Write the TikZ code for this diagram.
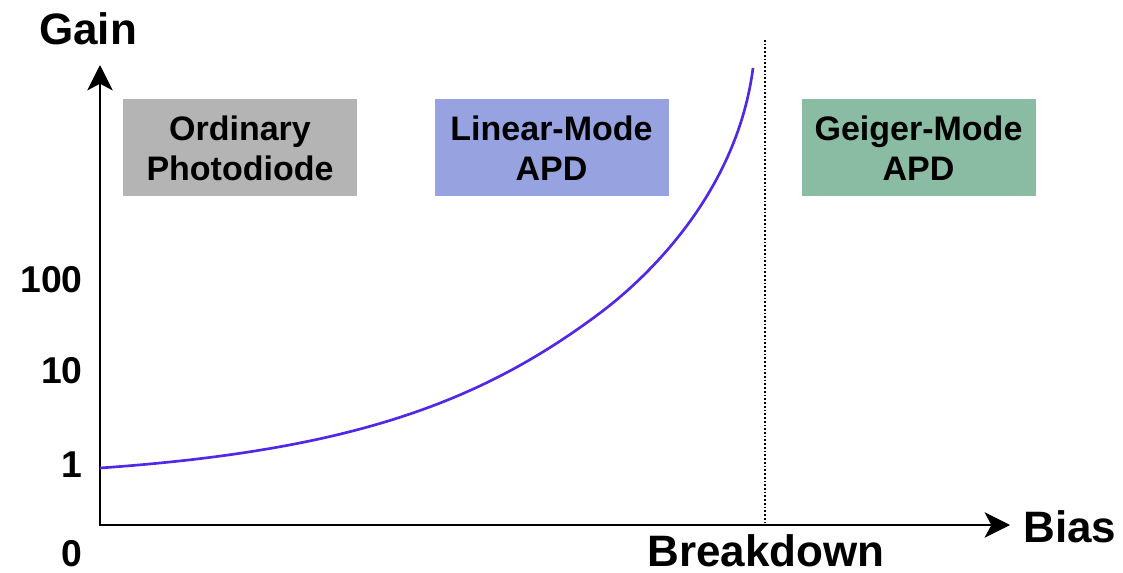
\documentclass[tikz,border=0pt]{standalone}
\usepackage{fontspec}
\setmainfont{Liberation Sans}
\usetikzlibrary{arrows.meta,positioning}
\definecolor{ordgray}{RGB}{180,180,180}
\definecolor{linblue}{RGB}{150,163,224}
\definecolor{geigreen}{RGB}{138,188,164}
\definecolor{gaincurve}{RGB}{80,40,230}
\tikzset{
    axis/.style={line width=2pt,{Stealth[length=19pt,width=19pt,inset=5pt]}-{Stealth[length=19pt,width=19pt,inset=5pt]}},
    axislabel/.style={font=\fontsize{33}{36}\selectfont\bfseries,inner sep=0pt},
    ticklabel/.style={font=\fontsize{28}{30}\selectfont\bfseries,inner sep=0pt,anchor=base east},
    regionbox/.style={minimum width=175.5pt,minimum height=72.75pt,align=center,inner sep=0pt,
        font=\fontsize{25.5}{30}\selectfont\bfseries}
}

\begin{document}
\begin{tikzpicture}[x=0.75pt,y=-0.75pt]
    \useasboundingbox (0,0) rectangle (1123,573);
    \coordinate (origin) at (100,525);
    \coordinate (ytop) at (100,65);
    \coordinate (xend) at (1010,525);
    \coordinate (bdtop) at (765,40);
    \coordinate (bdbot) at (765,525);
    \coordinate (gainstart) at (100,468);
    \coordinate (knee) at (600,313);
    \coordinate (gainend) at (753,68);
    \node[regionbox,fill=ordgray] (ordinary) at (240,148) {Ordinary\\Photodiode};
    \node[regionbox,fill=linblue] (linear) at (551.5,148) {Linear-Mode\\APD};
    \node[regionbox,fill=geigreen] (geiger) at (918.5,148) {Geiger-Mode\\APD};
    \draw[axis] (ytop) -- (origin) -- (xend);
    \draw[line width=1.3pt,dash pattern=on 1.3pt off 1.5pt] (bdtop) -- (bdbot);
    \draw[gaincurve,line width=2pt] (gainstart) .. controls (350,450.5) and (480,403) .. (knee)
        .. controls (640,283) and (736,198) .. (gainend);
    \node[axislabel,anchor=base] (gain) at (88,45) {Gain};
    \node[axislabel,anchor=base west] (bias) at (1023,542) {Bias};
    \node[axislabel,anchor=base] (breakdown) at (766,566) {Breakdown};
    \node[ticklabel] (t100) at (83,292) {100};
    \node[ticklabel] (t10) at (83,383) {10};
    \node[ticklabel] (t1) at (83,477) {1};
    \node[ticklabel] (t0) at (83,566) {0};
\end{tikzpicture}
\end{document}
